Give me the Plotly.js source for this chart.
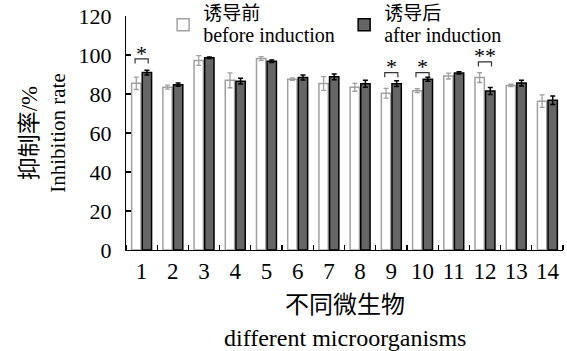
<!DOCTYPE html>
<html>
<head>
<meta charset="utf-8">
<script src="https://cdn.plot.ly/plotly-3.0.1.min.js"></script>
<style>html,body{margin:0;padding:0;background:#fff;}#chart{width:567px;height:351px;}</style>
</head>
<body>
<div id="chart"></div>
<script>
const categories = [1,2,3,4,5,6,7,8,9,10,11,12,13,14];
const tickLabels = ['1','2','3','4','5','6','7','8','9','10','11','12','13','14'];
const beforeValues = [85.5, 83.5, 97.2, 87.0, 98.2, 87.6, 85.4, 83.4, 80.4, 81.7, 89.2, 88.4, 84.4, 76.3];
const beforeErrors = [3.2, 1.0, 2.5, 3.8, 1.0, 0.6, 3.5, 2.0, 2.5, 1.0, 1.5, 2.5, 0.6, 3.2];
const afterValues = [91.0, 84.8, 98.6, 86.6, 96.8, 88.5, 88.8, 85.3, 85.3, 87.6, 90.8, 81.5, 85.6, 76.8];
const afterErrors = [1.2, 0.8, 0.4, 1.5, 0.6, 1.3, 1.5, 1.8, 1.5, 1.0, 0.6, 1.8, 1.5, 2.2];
const yTicks = [0, 20, 40, 60, 80, 100, 120];
const sigCategories = [1, 9, 10, 12];
const sigMarks = ['*', '*', '*', '**'];
const sigBracketLevel = [98, 91, 91, 96.5];

const serif = '"Liberation Serif", "Noto Sans CJK SC", serif';
const barOffset = 0.21;

const traces = [
  {
    type: 'bar', x: categories, y: beforeValues,
    name: '<span style="font-size:19px">诱导前</span><br><span style="font-size:20px">before induction</span>',
    marker: {color: '#ffffff', line: {color: '#a0a0a0', width: 1.5}},
    error_y: {type: 'data', array: beforeErrors, visible: true, color: '#a0a0a0', thickness: 1.3, width: 2.5}
  },
  {
    type: 'bar', x: categories, y: afterValues,
    name: '<span style="font-size:19px">诱导后</span><br><span style="font-size:20px">after induction</span>',
    marker: {color: '#666666', line: {color: '#000000', width: 1.5}},
    error_y: {type: 'data', array: afterErrors, visible: true, color: '#000000', thickness: 1.5, width: 2.5}
  }
];

// significance brackets built from the category positions
sigCategories.forEach((c, i) => {
  const lvl = sigBracketLevel[i];
  traces.push({
    type: 'scatter', mode: 'lines', showlegend: false, hoverinfo: 'skip',
    x: [c - barOffset, c - barOffset, c + barOffset, c + barOffset],
    y: [lvl - 2.4, lvl, lvl, lvl - 2.4],
    line: {color: '#333333', width: 1.2}
  });
});

const annotations = sigCategories.map((c, i) => ({
  x: c, y: sigBracketLevel[i] + 2.5, xref: 'x', yref: 'y', text: sigMarks[i],
  showarrow: false, yanchor: 'middle', yshift: 1, font: {family: serif, size: 22, color: '#000'}
}));
annotations.push(
  {x: 0.5, y: -0.235, xref: 'paper', yref: 'paper', text: '不同微生物', showarrow: false,
   xanchor: 'center', yanchor: 'middle', font: {family: serif, size: 24, color: '#000'}},
  {x: 0.5, y: -0.377, xref: 'paper', yref: 'paper', text: 'different microorganisms', showarrow: false,
   xanchor: 'center', yanchor: 'middle', font: {family: serif, size: 24, color: '#000'}}
);

const layout = {
  width: 567, height: 351,
  margin: {l: 126, r: 4, t: 16, b: 101, autoexpand: false},
  paper_bgcolor: '#ffffff', plot_bgcolor: '#ffffff',
  barmode: 'group', bargap: 0.32, bargroupgap: 0.12,
  font: {family: serif, color: '#000'},
  showlegend: true,
  legend: {
    orientation: 'h', x: 0.085, xanchor: 'left', y: 1.085, yanchor: 'top',
    font: {family: serif, size: 17, color: '#000'}, bgcolor: 'rgba(0,0,0,0)',
    entrywidth: 136, entrywidthmode: 'pixels', traceorder: 'normal', valign: 'middle'
  },
  xaxis: {
    range: [0.5, 14.5], tickmode: 'array', tickvals: categories, ticktext: tickLabels,
    ticks: '', showline: true, linecolor: '#000', linewidth: 1.2, showgrid: false, zeroline: false,
    tickfont: {family: serif, size: 23, color: '#000'},
    minor: {tick0: 0.5, dtick: 1, ticks: 'inside', ticklen: 5, tickcolor: '#000', tickwidth: 1.2, showgrid: false}
  },
  yaxis: {
    range: [0, 120], tickmode: 'array', tickvals: yTicks,
    ticks: 'inside', ticklen: 5, tickcolor: '#000', tickwidth: 1.2,
    showline: true, linecolor: '#000', linewidth: 1.2, showgrid: false, zeroline: false,
    tickfont: {family: serif, size: 22, color: '#000'}, ticklabelstandoff: 9,
    title: {text: '<span style="font-size:23px">抑制率/%</span><br>Inhibition rate', font: {family: serif, size: 21, color: '#000'}, standoff: 7}
  },
  annotations: annotations
};

Plotly.newPlot('chart', traces, layout, {staticPlot: true, displayModeBar: false});
</script>
</body>
</html>
